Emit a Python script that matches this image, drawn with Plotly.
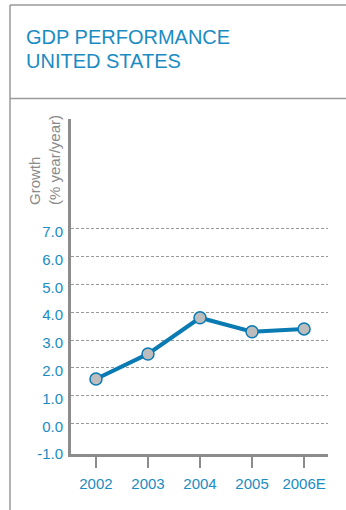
import plotly.graph_objects as go

# GDP growth, United States (% year/year)
years = ["2002", "2003", "2004", "2005", "2006E"]
growth = [1.6, 2.5, 3.8, 3.3, 3.4]
label_ticks = [-1, 0, 1, 2, 3, 4, 5, 6, 7]
grid_ticks = [0, 1, 2, 3, 4, 5, 6, 7]

W, H = 346, 510
BLUE = "#1b8cc2"
LINE_BLUE = "#0a7ab3"
GREY = "#8c8c8c"
FONT = "Liberation Sans, Arial, sans-serif"

def px_x(v):
    return v / W

def px_y(v):
    return 1 - v / H

y_range = [-1.1, 10.95]
x_range = [-0.48, 4.46]

fig = go.Figure()
# invisible trace carrying the grid axis
fig.add_trace(go.Scatter(x=[0], y=[0], yaxis="y2", mode="markers",
                         marker=dict(opacity=0), showlegend=False, hoverinfo="skip"))
fig.add_trace(go.Scatter(
    x=list(range(len(years))), y=growth, mode="lines+markers",
    line=dict(color=LINE_BLUE, width=4),
    marker=dict(size=12, color="#bdbdbd", line=dict(color=LINE_BLUE, width=1.5)),
    hoverinfo="skip", showlegend=False,
))

plot_x = [px_x(71), px_x(328)]
plot_y = [px_y(454), px_y(119)]

fig.update_layout(
    template="none",
    width=W, height=H, autosize=False,
    margin=dict(l=0, r=0, t=0, b=0, pad=0),
    paper_bgcolor="white", plot_bgcolor="rgba(0,0,0,0)",
    xaxis=dict(
        domain=plot_x, range=x_range, automargin=False,
        tickmode="array", tickvals=list(range(len(years))), ticktext=years,
        showgrid=False, zeroline=False,
        showline=True, linecolor=GREY, linewidth=3,
        ticks="outside", ticklen=11, tickwidth=1.5, tickcolor=GREY,
        ticklabelstandoff=3,
        tickfont=dict(family=FONT, size=15, color=BLUE),
    ),
    yaxis=dict(
        domain=plot_y, range=y_range, automargin=False,
        tickmode="array", tickvals=label_ticks,
        ticktext=[f"{v:.1f}" for v in label_ticks],
        showgrid=False, zeroline=False,
        showline=True, linecolor=GREY, linewidth=3,
        ticks="", ticklabelstandoff=2, ticklabelshift=3,
        tickfont=dict(family=FONT, size=15, color=BLUE),
    ),
    yaxis2=dict(
        domain=plot_y, range=y_range, overlaying="y", automargin=False,
        tickmode="array", tickvals=grid_ticks, showticklabels=False,
        showgrid=True, gridcolor="#999999", gridwidth=1.2, griddash="3px,2px",
        zeroline=False, showline=False,
    ),
)

# Frame lines around the panel
frame = dict(type="line", xref="paper", yref="paper",
             line=dict(color="#9a9a9a", width=1.5), layer="below")
fig.add_shape(**frame, x0=px_x(10), x1=px_x(10), y0=px_y(5), y1=0)
fig.add_shape(**frame, x0=px_x(10), x1=1, y0=px_y(5), y1=px_y(5))
fig.add_shape(**frame, x0=px_x(10), x1=1, y0=px_y(98.5), y1=px_y(98.5))

TITLE_FONT = dict(family="Liberation Sans, Arial, sans-serif", size=20, color=BLUE)
fig.add_annotation(text="GDP PERFORMANCE", xref="paper", yref="paper",
                   x=px_x(24), y=px_y(24), xanchor="left", yanchor="top",
                   showarrow=False, font=TITLE_FONT)
fig.add_annotation(text="UNITED STATES", xref="paper", yref="paper",
                   x=px_x(24), y=px_y(48), xanchor="left", yanchor="top",
                   showarrow=False, font=TITLE_FONT)

fig.add_annotation(text="Growth<br>(% year/year)", xref="paper", yref="paper",
                   x=px_x(44), y=px_y(207), xanchor="center", yanchor="bottom",
                   textangle=-90, align="left", showarrow=False,
                   font=dict(family=FONT, size=15, color="#8a8a8a"))

fig.write_html("out.html")
